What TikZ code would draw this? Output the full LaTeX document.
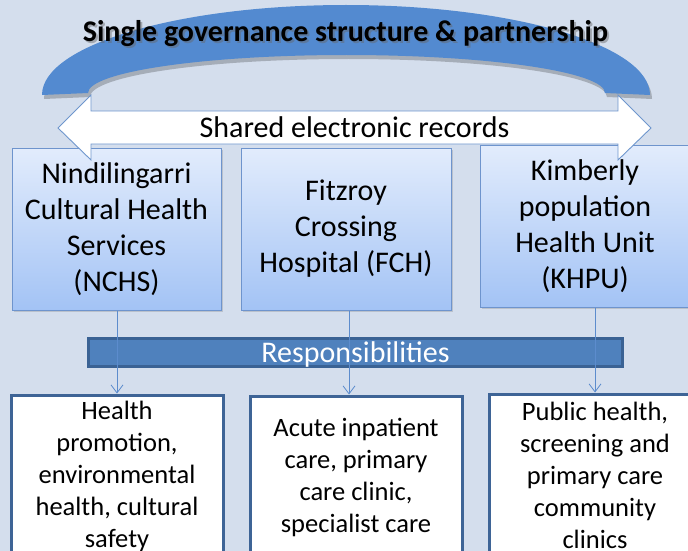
\documentclass[tikz,border=0pt]{standalone}
\usepackage{fontspec}
\setmainfont{Carlito}
\usetikzlibrary{arrows.meta,shadows}
\definecolor{bg}{RGB}{212,222,237}
\definecolor{arcblue}{RGB}{83,138,208}
\definecolor{arrowedge}{RGB}{110,150,205}
\definecolor{boxtop}{RGB}{226,236,252}
\definecolor{boxbot}{RGB}{163,195,245}
\definecolor{boxedge}{RGB}{110,148,205}
\definecolor{barfill}{RGB}{79,129,189}
\definecolor{baredge}{RGB}{58,98,148}
\definecolor{respedge}{RGB}{62,100,150}
\definecolor{connector}{RGB}{92,140,205}
\begin{document}
\begin{tikzpicture}[x=1pt,y=-1pt,
  orgbox/.style={draw=boxedge, line width=1pt, top color=boxtop, bottom color=boxbot,
    minimum width=209pt, minimum height=162pt, align=center, inner sep=0pt,
    font=\fontsize{30}{36}\selectfont,
    drop shadow={opacity=0.3,shadow xshift=2pt,shadow yshift=-2pt}},
  respbox/.style={draw=respedge, line width=3pt, fill=white,
    minimum width=212pt, minimum height=162pt, align=center, inner sep=0pt,
    font=\fontsize{26.5}{32}\selectfont,
    drop shadow={opacity=0.2,shadow xshift=2pt,shadow yshift=-2pt}},
  conn/.style={draw=connector, line width=0.8pt,
    -{Straight Barb[length=8pt,width=12pt,line width=0.8pt]}},
  bigtext/.style={font=\fontsize{30}{36}\selectfont, inner sep=0pt}]
\useasboundingbox (0,0) rectangle (688,551);
\fill[bg] (0,0) rectangle (688,551);

% governance arc with shadow
\fill[black,opacity=0.22] (44,99) arc[start angle=180,end angle=360,x radius=304,y radius=90]
   -- (607,97) arc[start angle=360,end angle=180,x radius=258.5,y radius=38] -- cycle;
\fill[arcblue] (42,95) arc[start angle=180,end angle=360,x radius=304,y radius=90]
   -- (605,93) arc[start angle=360,end angle=180,x radius=258.5,y radius=38] -- cycle;
\node[bigtext, anchor=base, text=black!60, opacity=0.45, font=\fontsize{30}{36}\selectfont\bfseries]
   at (347.5,44) {Single governance structure \& partnership};
\node[bigtext, anchor=base, font=\fontsize{30}{36}\selectfont\bfseries] (title)
   at (345.5,42) {Single governance structure \& partnership};

% partner boxes
\node[orgbox] (nchs) at (116.5,229) {Nindilingarri\\Cultural Health\\Services\\(NCHS)};
\node[orgbox, minimum width=210pt] (fch) at (346,229) {Fitzroy\\Crossing\\Hospital (FCH)};
\node[orgbox, minimum width=210pt] (khpu) at (585,226) {Kimberly\\population\\Health Unit\\(KHPU)};

% shared records double arrow
\filldraw[fill=white, draw=arrowedge, line width=0.9pt]
  (58,128) -- (91,95) -- (91,111) -- (618,111) -- (618,95) -- (651,128)
  -- (618,160) -- (618,144) -- (91,144) -- (91,160) -- cycle;
\node[bigtext, anchor=base] (records) at (354.5,137) {Shared electronic records};

% responsibilities bar
\node[draw=baredge, line width=3pt, fill=barfill, minimum width=534pt, minimum height=28pt,
  inner sep=0pt, text=white, font=\fontsize{30}{36}\selectfont, text height=19.5pt, text depth=0pt]
  (resp) at (355.5,352.5) {Responsibilities};

% responsibility boxes
\node[respbox] (promo) at (117,476) {Health\\promotion,\\environmental\\health, cultural\\safety};
\node[respbox] (acute) at (356,477) {Acute inpatient\\care, primary\\care clinic,\\specialist care};
\node[respbox] (pub) at (595,475) {Public health,\\screening and\\primary care\\community\\clinics};

% connectors
\coordinate (c2) at ([xshift=3pt]fch.south);
\draw[conn] (promo.north |- nchs.south) -- (promo.north);
\draw[conn] (c2) -- (c2 |- acute.north);
\draw[conn] (pub.north |- khpu.south) -- (pub.north);
\end{tikzpicture}
\end{document}
